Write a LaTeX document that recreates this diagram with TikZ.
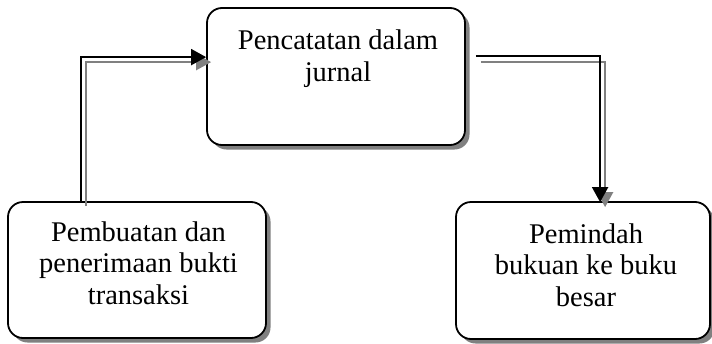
\documentclass[tikz,border=0pt]{standalone}
\usepackage{fontspec}
\setmainfont{Liberation Serif}
\usetikzlibrary{shadows,arrows.meta,calc}
\begin{document}
\begin{tikzpicture}[x=1pt,y=-1pt,
  stepbox/.style={draw=black, line width=1.8pt, rounded corners=15pt, fill=white,
    drop shadow={shadow xshift=4.5pt, shadow yshift=-4.5pt, fill=black!50, opacity=1},
    inner sep=0pt},
  boxtext/.style={align=center, inner sep=0pt, anchor=base,
    font=\fontsize{28.5}{31.5}\selectfont},
  flow/.style={draw=black, line width=2pt, -{Triangle[length=15pt,width=16pt]}},
  flowshadow/.style={draw=black!50, line width=2pt, -{Triangle[length=15pt,width=16pt]}}
]
\useasboundingbox (0,0) rectangle (712,343);
\fill[white] (0,0) rectangle (712,343);

\node[stepbox, minimum width=258pt, minimum height=137pt] (jurnal) at (336,76.5) {};
\node[stepbox, minimum width=258pt, minimum height=136pt] (bukti) at (137,270) {};
\node[stepbox, minimum width=254pt, minimum height=137pt] (besar) at (583,270.5) {};

\node[boxtext] (tjurnal) at ($(jurnal.north)+(2,74)$) {Pencatatan dalam\\jurnal};
\node[boxtext] (tbukti) at ($(bukti.north)+(1.5,103)$) {Pembuatan dan\\penerimaan bukti\\transaksi};
\node[boxtext] (tbesar) at ($(besar.north)+(3,105)$) {Pemindah\\bukuan ke buku\\besar};

% connector coordinates
\coordinate (a1s) at ($(bukti.north west)+(74,0)$);
\coordinate (a1e) at ($(jurnal.north west)+(0,50)$);
\coordinate (a2s) at ($(jurnal.north east)+(10,49)$);
\coordinate (a2e) at ($(besar.north west)+(145,1)$);

% shadows of connectors
\draw[flowshadow] ($(a1s)+(5,5)$) |- ($(a1e)+(5,5)$);
\draw[flowshadow] ($(a2s)+(5,6)$) -| ($(a2e)+(5,5)$);
% connectors
\draw[flow] (a1s) |- (a1e);
\draw[flow] (a2s) -| (a2e);
\end{tikzpicture}
\end{document}
